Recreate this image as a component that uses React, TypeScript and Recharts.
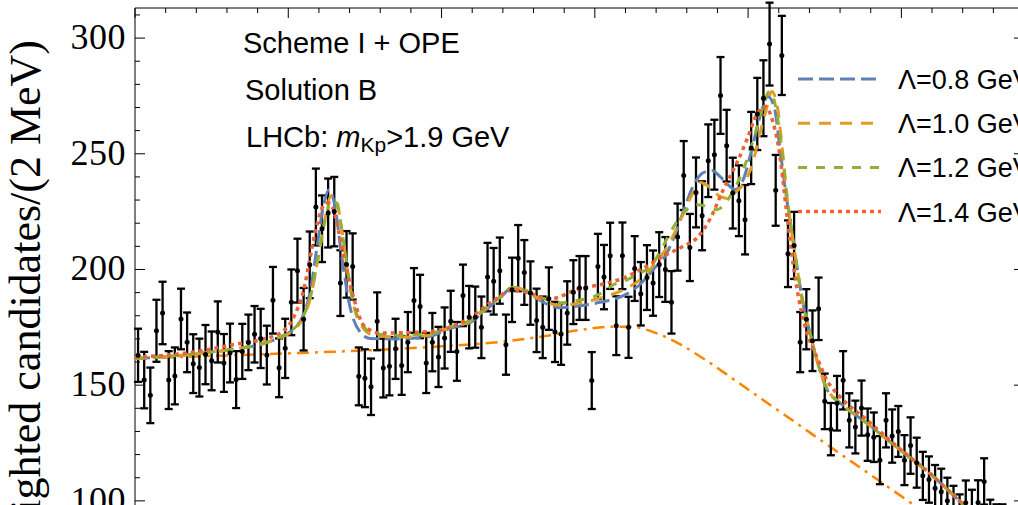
import { ComposedChart, ErrorBar, Line, ReferenceArea, Scatter, XAxis, YAxis } from "recharts";

// plot frame in page pixels
const PLOT_LEFT = 135;
const PLOT_RIGHT = 1024;
const PLOT_TOP = 8;

// bin centres (MeV), 2 MeV bins
const massBins = [
  4251, 4253, 4255, 4257, 4259, 4261, 4263, 4265, 4267, 4269,
  4271, 4273, 4275, 4277, 4279, 4281, 4283, 4285, 4287, 4289,
  4291, 4293, 4295, 4297, 4299, 4301, 4303, 4305, 4307, 4309,
  4311, 4313, 4315, 4317, 4319, 4321, 4323, 4325, 4327, 4329,
  4331, 4333, 4335, 4337, 4339, 4341, 4343, 4345, 4347, 4349,
  4351, 4353, 4355, 4357, 4359, 4361, 4363, 4365, 4367, 4369,
  4371, 4373, 4375, 4377, 4379, 4381, 4383, 4385, 4387, 4389,
  4391, 4393, 4395, 4397, 4399, 4401, 4403, 4405, 4407, 4409,
  4411, 4413, 4415, 4417, 4419, 4421, 4423, 4425, 4427, 4429,
  4431, 4433, 4435, 4437, 4439, 4441, 4443, 4445, 4447, 4449,
  4451, 4453, 4455, 4457, 4459, 4461, 4463, 4465, 4467, 4469,
  4471, 4473, 4475, 4477, 4479, 4481, 4483, 4485, 4487, 4489,
  4491, 4493, 4495, 4497, 4499, 4501, 4503, 4505, 4507, 4509,
  4511, 4513, 4515, 4517, 4519, 4521, 4523, 4525, 4527, 4529,
  4531, 4533, 4535, 4537, 4539,
];

const counts = [
  162.9, 152.2, 145.6, 173.5, 181.2, 152.2, 154.0, 178.6, 168.5, 159.3,
  157.6, 163.2, 160.5, 173.0, 159.6, 163.9, 152.4, 164.6, 168.5, 172.0,
  170.2, 163.0, 186.7, 157.5, 165.9, 185.8, 199.5, 178.5, 202.0, 227.0,
  217.6, 224.4, 225.0, 194.1, 202.2, 201.3, 153.8, 153.0, 149.3, 177.6,
  157.4, 158.2, 165.7, 158.5, 168.6, 186.6, 184.0, 159.6, 168.6, 162.2,
  170.4, 177.6, 164.6, 188.8, 179.4, 179.4, 175.0, 196.7, 194.9, 199.5,
  167.5, 191.2, 204.9, 198.7, 189.8, 178.0, 175.0, 187.4, 173.0, 172.1,
  181.2, 190.2, 192.0, 192.0, 152.0, 201.3, 196.7, 205.9, 175.7, 205.9,
  175.0, 200.4, 189.5, 196.5, 194.1, 202.1, 200.0, 185.8, 214.0, 240.6,
  209.5, 233.3, 223.2, 247.0, 249.6, 275.2, 253.5, 233.0, 229.7, 221.5,
  252.5, 267.2, 274.0, 297.4, 234.2, 292.5, 206.8, 210.4, 168.6, 178.5,
  169.2, 183.0, 143.0, 131.0, 142.2, 152.1, 134.8, 131.9, 140.1, 128.6,
  127.5, 117.6, 134.8, 128.0, 130.0, 117.6, 123.9, 116.5, 110.8, 109.2,
  105.5, 103.9, 100.0, 96.5, 93.0, 99.2, 95.0, 99.3, 108.4, 91.0,
  89.0, 89.0, 86.0, 84.0, 83.0,
];

const errors = [
  11.5, 12.2, 12.0, 13.4, 13.5, 12.5, 12.3, 13.1, 12.9, 12.7,
  12.5, 12.8, 12.7, 13.2, 12.5, 12.7, 12.3, 11.9, 12.0, 12.2,
  12.8, 12.7, 14.4, 12.7, 12.8, 14.2, 13.8, 13.5, 14.4, 16.6,
  14.4, 14.9, 15.0, 14.2, 14.4, 14.3, 12.5, 12.5, 12.2, 12.5,
  12.7, 12.6, 13.0, 12.7, 13.0, 14.0, 13.7, 13.0, 12.6, 13.0,
  13.2, 13.2, 12.7, 13.3, 13.5, 13.2, 13.3, 14.8, 14.4, 14.3,
  13.0, 13.9, 14.3, 14.0, 13.7, 13.7, 13.3, 13.5, 13.0, 13.3,
  13.7, 13.8, 13.8, 13.8, 12.3, 14.1, 13.9, 14.3, 12.7, 14.4,
  13.2, 14.0, 13.7, 14.0, 14.1, 14.0, 14.0, 13.5, 14.5, 14.9,
  14.5, 15.1, 14.9, 15.7, 15.1, 16.6, 15.5, 15.3, 15.3, 15.0,
  15.6, 15.6, 16.4, 17.9, 15.3, 17.1, 14.4, 14.5, 13.0, 13.0,
  13.1, 13.5, 12.0, 11.3, 11.8, 12.6, 11.7, 11.4, 11.9, 11.3,
  10.7, 10.4, 11.7, 11.5, 11.0, 10.8, 12.2, 10.8, 10.4, 10.0,
  10.0, 10.0, 10.0, 10.0, 9.8, 9.6, 9.8, 9.6, 10.0, 9.5,
  9.5, 9.5, 9.3, 9.3, 9.2,
];

// fitted line shapes, [mass, value]
const fit08 = [
  [4250, 161.5], [4270, 163.5], [4282, 165.5], [4292, 168], [4297, 170.5], [4301.5, 174],
  [4304.8, 180], [4307.1, 190], [4309.3, 209], [4311.4, 227], [4313.3, 234.5], [4315.2, 227.5],
  [4317.4, 206], [4320.1, 184], [4323.4, 173], [4326.6, 170.2], [4335.4, 170], [4346.2, 171.1],
  [4352.7, 174.5], [4359.3, 177], [4363.5, 181.5], [4369, 187.6], [4373.3, 192.4], [4376.6, 191.2],
  [4382.1, 186.6], [4388.6, 183.5], [4392.9, 184], [4401.7, 185.8], [4410.5, 189.5], [4414.7, 193.5],
  [4419, 199.9], [4423.5, 207.1], [4425.5, 212.9], [4428.7, 224.4], [4432, 235.9], [4435.2, 241.7],
  [4438.2, 242.8], [4440.8, 240.2], [4443.5, 236.6], [4445.7, 234.5], [4448.4, 238.8], [4451.2, 251.8],
  [4453.9, 266.2], [4456.5, 274.8], [4458.7, 269.1], [4460.4, 252], [4462.6, 230.2], [4464.3, 215.8],
  [4465.9, 201.4], [4468.1, 184.2], [4470.2, 172.5], [4472.4, 161], [4475.8, 148], [4480, 142.3],
  [4488.7, 133.6], [4499.5, 122.1], [4510.3, 110.6], [4519.1, 99.8], [4540, 77],
];

const fit10 = [
  [4250, 161.5], [4270, 163.5], [4282, 165.5], [4292, 168], [4297, 170.3], [4301.5, 173.5],
  [4304.8, 179], [4307.3, 188], [4309.6, 204], [4312, 222], [4314, 232], [4315.6, 230.5],
  [4317.6, 216], [4319.7, 196], [4321.8, 182], [4324.5, 174.5], [4328, 171.5], [4336, 170.8],
  [4346.2, 171.6], [4352.7, 175], [4359.3, 177.5], [4363.5, 182], [4369, 188], [4373.3, 192.2],
  [4376.6, 191.3], [4382.1, 187.2], [4388.6, 184.5], [4392.9, 185], [4401.7, 187.6], [4410.5, 192],
  [4414.7, 195.5], [4419, 201.5], [4423.5, 209.5], [4428.5, 223], [4432, 233], [4434.5, 237.6],
  [4437, 236], [4440.8, 231.6], [4443, 230.8], [4446, 233.5], [4449, 238], [4451.5, 246],
  [4453.7, 258], [4455.9, 269], [4457.7, 276.9], [4459.6, 270], [4461, 254], [4462.8, 230.5],
  [4464.3, 215.8], [4465.9, 201.4], [4468.1, 184.2], [4470.2, 172.5], [4472.4, 161], [4475.8, 148.3],
  [4480, 142.4], [4488.7, 133.6], [4499.5, 122.1], [4510.3, 110.6], [4519.1, 99.8], [4540, 77],
];

const fit12 = [
  [4250, 161.5], [4270, 163.6], [4282, 165.6], [4292, 168.2], [4297, 170.7], [4301.5, 174],
  [4304.8, 179.5], [4307.3, 188.5], [4309.6, 204], [4312, 221], [4314, 230.5], [4315.8, 228.5],
  [4317.8, 214], [4319.8, 196], [4321.8, 183], [4324.5, 175.5], [4328, 172.3], [4336, 171.5],
  [4346.2, 172.2], [4352.7, 175.2], [4359.3, 178], [4363.5, 182.4], [4369, 188], [4373.3, 192.3],
  [4376.6, 191.5], [4382.1, 188], [4388.6, 185.6], [4392.9, 186.3], [4401.7, 189.5], [4406, 193.4],
  [4410.5, 195.5], [4415.8, 199.2], [4418, 201], [4421, 207], [4424.5, 215.7], [4428.8, 224.4],
  [4433.2, 228], [4436.5, 227.3], [4439.7, 225.8], [4444.1, 231.6], [4448.4, 243.1], [4451.7, 256],
  [4454.9, 270.5], [4456.9, 277], [4458.7, 272], [4460.9, 253.2], [4462.8, 230], [4464.3, 215.8],
  [4465.9, 201.4], [4468.1, 184.2], [4470.2, 172.5], [4472.4, 161], [4475.8, 148.3], [4480, 142.4],
  [4488.7, 133.6], [4499.5, 122.1], [4510.3, 110.6], [4519.1, 99.8], [4540, 77],
];

const fit14 = [
  [4250, 162], [4270, 164.5], [4282, 167.5], [4292, 170], [4297.3, 172.5], [4301, 177.5],
  [4303, 183], [4305, 191], [4307.1, 205], [4309.3, 219], [4311, 226.5], [4312.5, 228.7],
  [4314.5, 226.5], [4316.5, 216], [4319, 200], [4321.5, 187], [4324.5, 176], [4329.9, 172.5],
  [4346.2, 173.2], [4358.2, 178.3], [4366.9, 186.5], [4373.4, 191.2], [4378, 190], [4385.4, 187.3],
  [4395.1, 191.8], [4402, 193.5], [4409.3, 196.3], [4415.8, 200.6], [4422, 205.5], [4428.8, 210],
  [4433.2, 213.5], [4437.5, 221.6], [4441.9, 234.5], [4446.3, 246], [4449.6, 256.1], [4452.8, 266.9],
  [4455.5, 270.5], [4458.2, 263.3], [4459.9, 253.2], [4462.6, 224.4], [4464.8, 201.4], [4467, 184.2],
  [4469.2, 172.7], [4472, 163.5], [4476, 151.5], [4480, 145], [4488.7, 135], [4499.5, 122.5],
  [4510.3, 110.8], [4519.1, 99.8], [4540, 77],
];

const background = [
  [4250, 161.5], [4270, 162.4], [4290, 163.3], [4310, 164.2], [4330, 165.3], [4350, 166.8],
  [4370, 168.8], [4385, 171.5], [4395, 173.8], [4405, 175.2], [4412, 175.2], [4420, 172.5],
  [4428, 167.5], [4436, 161], [4445, 152.8], [4455, 143.5], [4465, 134.3], [4475, 125],
  [4485, 115.8], [4495, 106.6], [4505, 97.4], [4515, 88.2], [4525, 79], [4540, 65],
];

const xTicks = [
  4250, 4260, 4270, 4280, 4290, 4300, 4310, 4320, 4330, 4340,
  4350, 4360, 4370, 4380, 4390, 4400, 4410, 4420, 4430, 4440,
  4450, 4460, 4470, 4480, 4490, 4500, 4510, 4520, 4530, 4540,
];
const yTicks = [100, 110, 120, 130, 140, 150, 160, 170, 180, 190, 200, 210, 220, 230, 240, 250, 260, 270, 280, 290, 300, 310];

const fits = [
  { label: "Λ=0.8 GeV", rows: fit08, color: "#5E81B5", dash: "15 6", width: 3 },
  { label: "Λ=1.0 GeV", rows: fit10, color: "#E19C24", dash: "12 9", width: 3 },
  { label: "Λ=1.2 GeV", rows: fit12, color: "#8FB032", dash: "9 9", width: 3 },
  { label: "Λ=1.4 GeV", rows: fit14, color: "#EB6235", dash: "4 4", width: 3.5 },
];

const toRows = (pairs: number[][]) => pairs.map(([m, v]) => ({ m, v }));
const points = massBins.map((m, i) => ({ m, v: counts[i], err: errors[i] }));

function YTick(props: any) {
  const { y, payload } = props;
  const major = payload.value % 50 === 0;
  const len = major ? 10 : 5;
  return (
    <g>
      <line x1={PLOT_LEFT} x2={PLOT_LEFT + len} y1={y} y2={y} stroke="#000" />
      <line x1={PLOT_RIGHT - len} x2={PLOT_RIGHT} y1={y} y2={y} stroke="#000" />
      {major && (
        <text
          x={126}
          y={y - 1}
          textAnchor="end"
          dominantBaseline="central"
          fontFamily="'Liberation Serif', serif"
          fontSize={36}
          letterSpacing={0.5}
          fill="#000"
        >
          {payload.value}
        </text>
      )}
    </g>
  );
}

function TopTick(props: any) {
  const { x, payload } = props;
  const len = payload.value % 50 === 0 ? 10 : 5;
  return <line x1={x} x2={x} y1={PLOT_TOP} y2={PLOT_TOP + len} stroke="#000" />;
}

const dot = (p: any) => <circle cx={p.cx} cy={p.cy} r={2.5} fill="#000" />;

export default function App() {
  return (
    <div style={{ position: "relative", width: 1018, height: 505, overflow: "hidden", background: "#fff" }}>
      <style>{"body{margin:0;overflow:hidden;background:#fff}"}</style>
      <ComposedChart width={1030} height={530} margin={{ top: PLOT_TOP, right: 6, bottom: 6, left: 0 }}>
        <XAxis
          type="number"
          dataKey="m"
          domain={[4250, 4540]}
          allowDataOverflow
          orientation="top"
          mirror
          axisLine={false}
          tickLine={false}
          ticks={xTicks}
          interval={0}
          tick={TopTick}
        />
        <YAxis
          type="number"
          domain={[90, 313]}
          allowDataOverflow
          width={PLOT_LEFT}
          axisLine={false}
          tickLine={false}
          ticks={yTicks}
          interval={0}
          tick={YTick}
        />
        <ReferenceArea x1={4250} x2={4540} y1={90} y2={313} fill="none" stroke="#000" strokeWidth={1} />
        <Line
          data={toRows(background)}
          dataKey="v"
          type="monotone"
          stroke="#FF8400"
          strokeWidth={2.5}
          strokeDasharray="12 6 3 6"
          dot={false}
          isAnimationActive={false}
        />
        <Scatter data={points} dataKey="v" shape={dot} isAnimationActive={false}>
          <ErrorBar dataKey="err" direction="y" width={4} stroke="#000" strokeWidth={2.3} />
        </Scatter>
        {fits.map((f) => (
          <Line
            key={f.label}
            data={toRows(f.rows)}
            dataKey="v"
            type="monotone"
            stroke={f.color}
            strokeWidth={f.width}
            strokeDasharray={f.dash}
            dot={false}
            isAnimationActive={false}
          />
        ))}
      </ComposedChart>

      <svg width={1018} height={505} style={{ position: "absolute", left: 0, top: 0, pointerEvents: "none" }}>
        <text
          transform="translate(40,40) rotate(-90)"
          textAnchor="end"
          fontFamily="'Liberation Serif', serif"
          fontSize={44}
          fill="#000"
        >
          Weighted candidates/(2 MeV)
        </text>
        <g fontFamily="'Liberation Sans', Arial, sans-serif" fontSize={29} fill="#000">
          <text x={243} y={53}>Scheme I + OPE</text>
          <text x={245} y={100}>Solution B</text>
          <text x={246} y={146.5}>
            LHCb: <tspan fontStyle="italic">m</tspan>
            <tspan fontSize={21} dy={5}>Kp</tspan>
            <tspan dy={-5}>&gt;1.9 GeV</tspan>
          </text>
        </g>
        {fits.map((f, i) => (
          <g key={f.label}>
            <line
              x1={798}
              x2={881}
              y1={79 + i * 44.2}
              y2={79 + i * 44.2}
              stroke={f.color}
              strokeWidth={f.width}
              strokeDasharray={f.dash}
            />
            <text
              x={898}
              y={89 + i * 44.2}
              fontFamily="'Liberation Sans', Arial, sans-serif"
              fontSize={27}
              fill="#000"
            >
              {f.label}
            </text>
          </g>
        ))}
      </svg>
    </div>
  );
}
